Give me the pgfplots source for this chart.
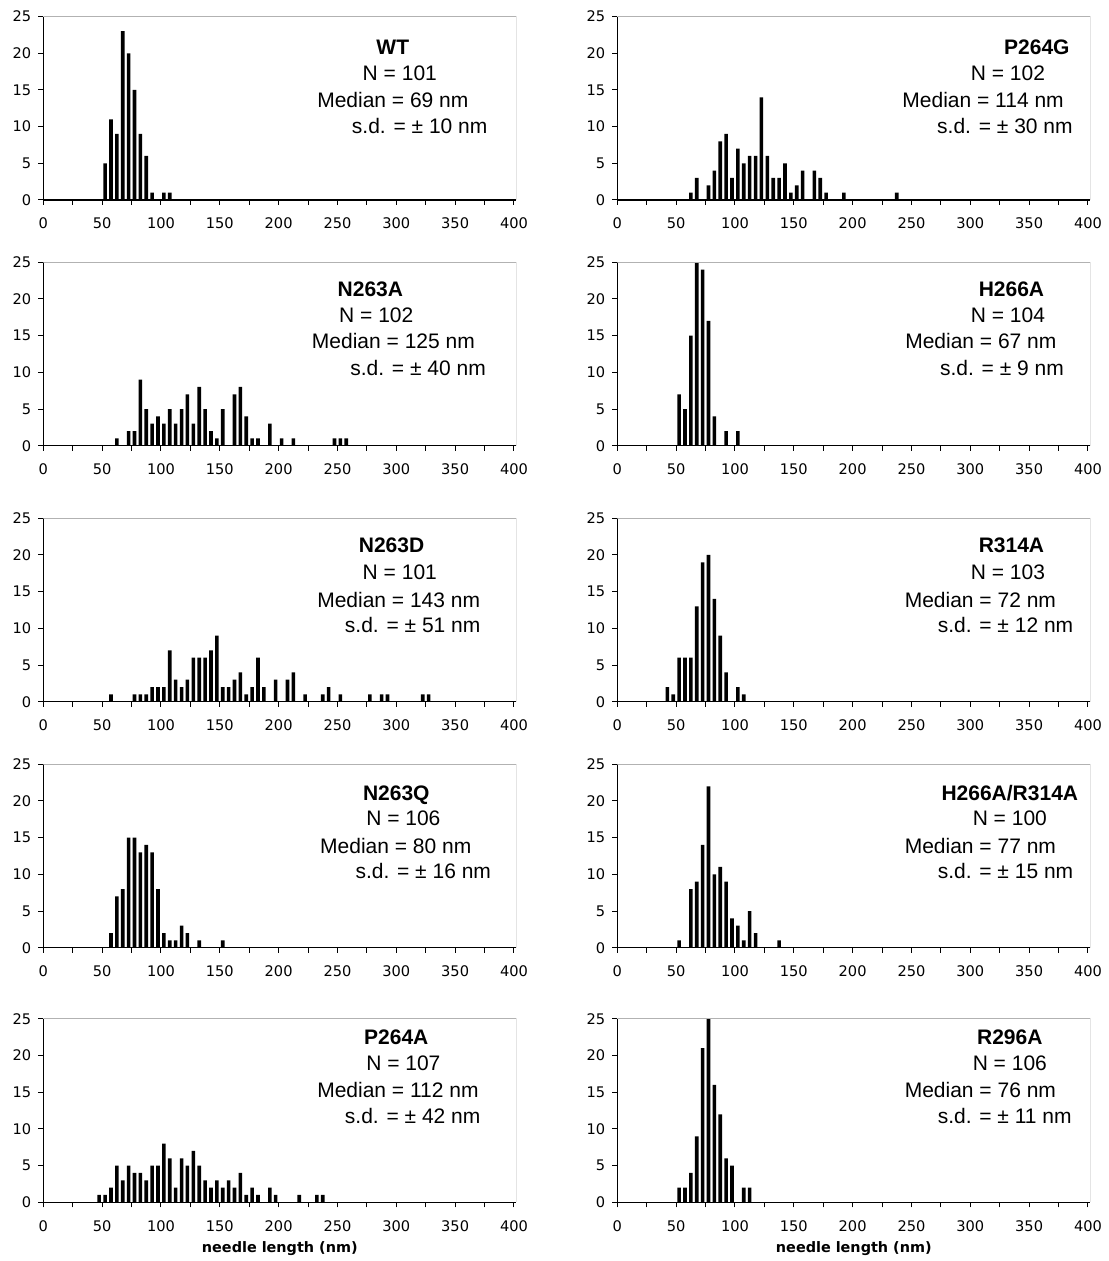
\documentclass[border=0pt]{standalone}
\usepackage{fontspec}
\setmainfont{Liberation Sans}
\newfontfamily\tickfamily{DejaVu Sans}
\usepackage{pgfplots}
\pgfplotsset{compat=1.18}
\newcommand{\statfont}{\fontsize{10.5pt}{12pt}\selectfont}
\newcommand{\tickfont}{\tickfamily\fontsize{7.3pt}{8pt}\selectfont}
\newcommand{\labfont}{\tickfamily\bfseries\fontsize{7.2pt}{8pt}\selectfont}
\pgfplotsset{
  hist/.style={
    scale only axis, width=236.5pt, height=91.7pt,
    anchor=south west,
    xmin=0, xmax=402, ymin=0, ymax=25,
    axis lines*=left, axis line style={-, black, line width=0.6pt},
    xtick={0,50,...,400}, minor xtick={25,75,...,375},
    ytick={0,5,...,25},
    tick align=outside, major tick length=2.5pt, minor tick length=2.5pt,
    tick style={black, line width=0.5pt},
    /pgf/number format/assume math mode=true,
    ticklabel style={font=\tickfont},
    xticklabel style={yshift=-3pt},
    ybar, bar width=1.8pt,
    cycle list={{fill=black, draw=none}},
    clip=true,
  },
}
\newcommand{\frameit}{\draw[gray!60, line width=0.5pt] (rel axis cs:0,1) -- (rel axis cs:1,1) -- (rel axis cs:1,0);}
\newcommand{\stats}[8]{%
  \node[anchor=base, inner sep=0pt, font=\statfont\bfseries] at (axis cs:#5,\yT) {#1};
  \node[anchor=base, inner sep=0pt, font=\statfont] at (axis cs:#6,\yN) {N = #2};
  \node[anchor=base west, inner sep=0pt, font=\statfont] at (axis cs:#7,\yM) {Median = #3 nm};
  \node[anchor=base west, inner sep=0pt, font=\statfont] at (axis cs:#8,\yS) {s.d. = ± #4 nm};
}
\begin{document}
\begin{tikzpicture}
\path[use as bounding box] (0,0) rectangle (554pt,630.5pt);
% ---------- row 1
\def\yT{19.85}\def\yN{16.3}\def\yM{12.6}\def\yS{9.1}
\begin{axis}[hist, at={(21.65pt,530.5pt)}]
\addplot[fill=black, draw=none] coordinates {(52.5,5)(57.5,11)(62.5,9)(67.5,23)(72.5,20)(77.5,15)(82.5,9)(87.5,6)(92.5,1)(102.5,1)(107.5,1)};
\frameit
\stats{WT}{101}{69}{10}{297}{303}{232.5}{262}
\end{axis}
\begin{axis}[hist, at={(308.65pt,530.5pt)}]
\addplot[fill=black, draw=none] coordinates {(62.5,1)(67.5,3)(77.5,2)(82.5,4)(87.5,8)(92.5,9)(97.5,3)(102.5,7)(107.5,5)(112.5,6)(117.5,6)(122.5,14)(127.5,6)(132.5,3)(137.5,3)(142.5,5)(147.5,1)(152.5,2)(157.5,4)(167.5,4)(172.5,3)(177.5,1)(192.5,1)(237.5,1)};
\frameit
\stats{P264G}{102}{114}{30}{356.6}{332}{242}{271.5}
\end{axis}
% ---------- row 2
\def\yT{20.3}\def\yN{16.85}\def\yM{13.2}\def\yS{9.5}
\begin{axis}[hist, at={(21.65pt,407.65pt)}]
\addplot[fill=black, draw=none] coordinates {(62.5,1)(72.5,2)(77.5,2)(82.5,9)(87.5,5)(92.5,3)(97.5,4)(102.5,3)(107.5,5)(112.5,3)(117.5,5)(122.5,7)(127.5,3)(132.5,8)(137.5,5)(142.5,2)(147.5,1)(152.5,5)(162.5,7)(167.5,8)(172.5,4)(177.5,1)(182.5,1)(192.5,3)(202.5,1)(212.5,1)(247.5,1)(252.5,1)(257.5,1)};
\frameit
\stats{N263A}{102}{125}{40}{278}{283}{228}{260.6}
\end{axis}
\begin{axis}[hist, at={(308.65pt,407.65pt)}]
\addplot[fill=black, draw=none] coordinates {(52.5,7)(57.5,5)(62.5,15)(67.5,28)(72.5,24)(77.5,17)(82.5,4)(92.5,2)(102.5,2)};
\frameit
\stats{H266A}{104}{67}{9}{335}{332}{244.4}{274}
\end{axis}
% ---------- row 3
\def\yT{20.3}\def\yN{16.6}\def\yM{12.9}\def\yS{9.4}
\begin{axis}[hist, at={(21.65pt,279.65pt)}]
\addplot[fill=black, draw=none] coordinates {(57.5,1)(77.5,1)(82.5,1)(87.5,1)(92.5,2)(97.5,2)(102.5,2)(107.5,7)(112.5,3)(117.5,2)(122.5,3)(127.5,6)(132.5,6)(137.5,6)(142.5,7)(147.5,9)(152.5,2)(157.5,2)(162.5,3)(167.5,4)(172.5,1)(177.5,2)(182.5,6)(187.5,2)(197.5,3)(207.5,3)(212.5,4)(222.5,1)(237.5,1)(242.5,2)(252.5,1)(277.5,1)(287.5,1)(292.5,1)(322.5,1)(327.5,1)};
\frameit
\stats{N263D}{101}{143}{51}{296}{303}{232.5}{256}
\end{axis}
\begin{axis}[hist, at={(308.65pt,279.65pt)}]
\addplot[fill=black, draw=none] coordinates {(42.5,2)(47.5,1)(52.5,6)(57.5,6)(62.5,6)(67.5,13)(72.5,19)(77.5,20)(82.5,14)(87.5,9)(92.5,4)(102.5,2)(107.5,1)};
\frameit
\stats{R314A}{103}{72}{12}{335}{332}{244}{272}
\end{axis}
% ---------- row 4
\def\yT{20.1}\def\yN{16.6}\def\yM{12.9}\def\yS{9.4}
\begin{axis}[hist, at={(21.65pt,156.65pt)}]
\addplot[fill=black, draw=none] coordinates {(57.5,2)(62.5,7)(67.5,8)(72.5,15)(77.5,15)(82.5,13)(87.5,14)(92.5,13)(97.5,8)(102.5,2)(107.5,1)(112.5,1)(117.5,3)(122.5,2)(132.5,1)(152.5,1)};
\frameit
\stats{N263Q}{106}{80}{16}{300}{306}{235}{265}
\end{axis}
\begin{axis}[hist, at={(308.65pt,156.65pt)}]
\addplot[fill=black, draw=none] coordinates {(52.5,1)(62.5,8)(67.5,9)(72.5,14)(77.5,22)(82.5,10)(87.5,11)(92.5,9)(97.5,4)(102.5,3)(107.5,1)(112.5,5)(117.5,2)(137.5,1)};
\frameit
\stats{H266A/R314A}{100}{77}{15}{333.6}{333.6}{244}{272}
\end{axis}
% ---------- row 5
\def\yT{21.5}\def\yN{17.9}\def\yM{14.3}\def\yS{10.8}
\begin{axis}[hist, at={(21.65pt,29.35pt)},
  xlabel={\labfont needle length (nm)},
  xlabel style={at={(axis description cs:0.5,0)}, anchor=base, yshift=-25pt}]
\addplot[fill=black, draw=none] coordinates {(47.5,1)(52.5,1)(57.5,2)(62.5,5)(67.5,3)(72.5,5)(77.5,4)(82.5,4)(87.5,3)(92.5,5)(97.5,5)(102.5,8)(107.5,6)(112.5,2)(117.5,6)(122.5,5)(127.5,7)(132.5,5)(137.5,3)(142.5,2)(147.5,3)(152.5,2)(157.5,3)(162.5,2)(167.5,4)(172.5,1)(177.5,2)(182.5,1)(192.5,2)(197.5,1)(217.5,1)(232.5,1)(237.5,1)};
\frameit
\stats{P264A}{107}{112}{42}{300}{306}{232.5}{256}
\end{axis}
\begin{axis}[hist, at={(308.65pt,29.35pt)},
  xlabel={\labfont needle length (nm)},
  xlabel style={at={(axis description cs:0.5,0)}, anchor=base, yshift=-25pt}]
\addplot[fill=black, draw=none] coordinates {(52.5,2)(57.5,2)(62.5,4)(67.5,9)(72.5,21)(77.5,25)(82.5,16)(87.5,12)(92.5,6)(97.5,5)(107.5,2)(112.5,2)};
\frameit
\stats{R296A}{106}{76}{11}{333.6}{333.6}{244}{272}
\end{axis}
\end{tikzpicture}
\end{document}
